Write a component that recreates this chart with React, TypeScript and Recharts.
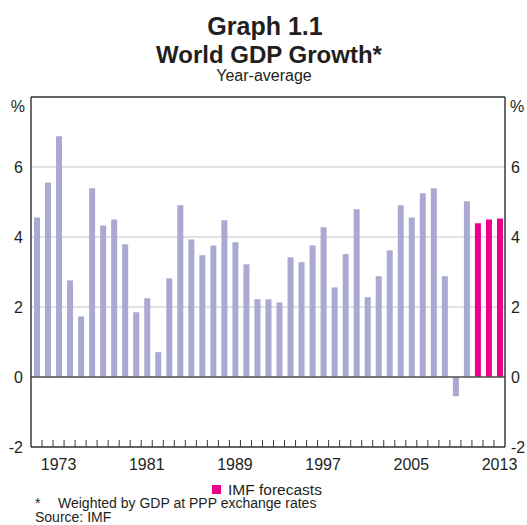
import React from "react";
import { BarChart, Bar, XAxis, YAxis, CartesianGrid, ReferenceLine, Cell } from "recharts";

const years = [
  1971, 1972, 1973, 1974, 1975, 1976, 1977, 1978, 1979, 1980,
  1981, 1982, 1983, 1984, 1985, 1986, 1987, 1988, 1989, 1990,
  1991, 1992, 1993, 1994, 1995, 1996, 1997, 1998, 1999, 2000,
  2001, 2002, 2003, 2004, 2005, 2006, 2007, 2008, 2009, 2010,
  2011, 2012, 2013,
];
const growth = [
  4.56, 5.56, 6.88, 2.76, 1.73, 5.39, 4.33, 4.5, 3.79, 1.85,
  2.25, 0.71, 2.82, 4.91, 3.93, 3.48, 3.76, 4.48, 3.85, 3.22,
  2.22, 2.22, 2.13, 3.42, 3.28, 3.76, 4.28, 2.56, 3.51, 4.79,
  2.28, 2.88, 3.62, 4.91, 4.56, 5.25, 5.39, 2.88, -0.55, 5.02,
  4.39, 4.5, 4.53,
];
const forecastYears = [2011, 2012, 2013];
const labelYears = [1973, 1981, 1989, 1997, 2005, 2013];
const yTicks = [-2, 0, 2, 4, 6, 8];

const data = years.map((y, i) => ({ year: y, value: growth[i] }));
const boundaryTicks = years.slice(0, -1).map((y) => y + 0.5);
const xTicks = [...boundaryTicks, ...labelYears].sort((a, b) => a - b);

const FONT = "'Liberation Sans', Arial, sans-serif";
const TEXT = "#231f20";
const AXIS = "#3a3a3a";
const HIST = "#a9a9d1";
const FCST = "#ec008c";

const XTick = (props: any) => {
  const { x, y, payload } = props;
  const v = payload.value;
  if (Number.isInteger(v)) {
    return (
      <text x={x} y={y + 23} textAnchor="middle" fontSize={16} fontFamily={FONT} fill={TEXT}>
        {v}
      </text>
    );
  }
  return <line x1={x} x2={x} y1={y} y2={y - 7} stroke={AXIS} strokeWidth={1} />;
};

const YTick = (props: any) => {
  const { x, y, payload, textAnchor } = props;
  const v = payload.value;
  if (v === 8) {
    return (
      <text x={x + (textAnchor === "end" ? 2 : -1)} y={y + 15} textAnchor={textAnchor} fontSize={16} fontFamily={FONT} fill={TEXT}>
        %
      </text>
    );
  }
  return (
    <text x={x} y={y} dy="0.35em" textAnchor={textAnchor} fontSize={16} fontFamily={FONT} fill={TEXT}>
      {v}
    </text>
  );
};

export default function App() {
  return (
    <div style={{ position: "absolute", left: 0, top: 0, width: 527, height: 525, background: "#fff" }}>
      <BarChart
        width={527}
        height={525}
        data={data}
        margin={{ top: 97, right: 0, left: 0, bottom: 48 }}
      >
        <CartesianGrid vertical={false} stroke="#d9d9d9" strokeWidth={1.5} yAxisId="left" />
        <XAxis
          dataKey="year"
          type="number"
          domain={[1970.5, 2013.5]}
          ticks={xTicks}
          interval={0}
          height={30}
          tickLine={false}
          tickSize={0}
          tickMargin={0}
          axisLine={{ stroke: AXIS, strokeWidth: 1.5 }}
          tick={<XTick />}
          allowDataOverflow
        />
        <YAxis
          yAxisId="left"
          type="number"
          domain={[-2, 8]}
          ticks={yTicks}
          interval={0}
          width={31}
          tickLine={false}
          tickSize={0}
          tickMargin={8}
          axisLine={{ stroke: AXIS, strokeWidth: 1.5 }}
          tick={<YTick />}
          allowDataOverflow
        />
        <YAxis
          yAxisId="right"
          orientation="right"
          type="number"
          domain={[-2, 8]}
          ticks={yTicks}
          interval={0}
          width={22}
          tickLine={false}
          tickSize={0}
          tickMargin={6}
          axisLine={{ stroke: AXIS, strokeWidth: 1.5 }}
          tick={<YTick />}
          allowDataOverflow
        />
        <Bar dataKey="value" yAxisId="left" barSize={6} isAnimationActive={false}>
          {data.map((d) => (
            <Cell key={d.year} fill={forecastYears.includes(d.year) ? FCST : HIST} />
          ))}
        </Bar>
        <ReferenceLine y={0} yAxisId="left" stroke="#555" strokeWidth={1.5} />
        <ReferenceLine y={8} yAxisId="left" stroke={AXIS} strokeWidth={1.5} />
      </BarChart>
      <svg
        width={527}
        height={525}
        style={{ position: "absolute", left: 0, top: 0, pointerEvents: "none" }}
      >
        <g fontFamily={FONT} fill={TEXT}>
          <text x={265} y={35} textAnchor="middle" fontSize={25} fontWeight="bold">Graph 1.1</text>
          <text x={269} y={63} textAnchor="middle" fontSize={24} fontWeight="bold">World GDP Growth*</text>
          <text x={264} y={80.5} textAnchor="middle" fontSize={16}>Year-average</text>
          <rect x={212} y={485} width={9} height={9} fill={FCST} />
          <text x={228} y={495} fontSize={15.5}>IMF forecasts</text>
          <text x={35} y={508} fontSize={14}>*</text>
          <text x={58} y={508} fontSize={14}>Weighted by GDP at PPP exchange rates</text>
          <text x={35} y={522} fontSize={14}>Source: IMF</text>
        </g>
      </svg>
    </div>
  );
}
